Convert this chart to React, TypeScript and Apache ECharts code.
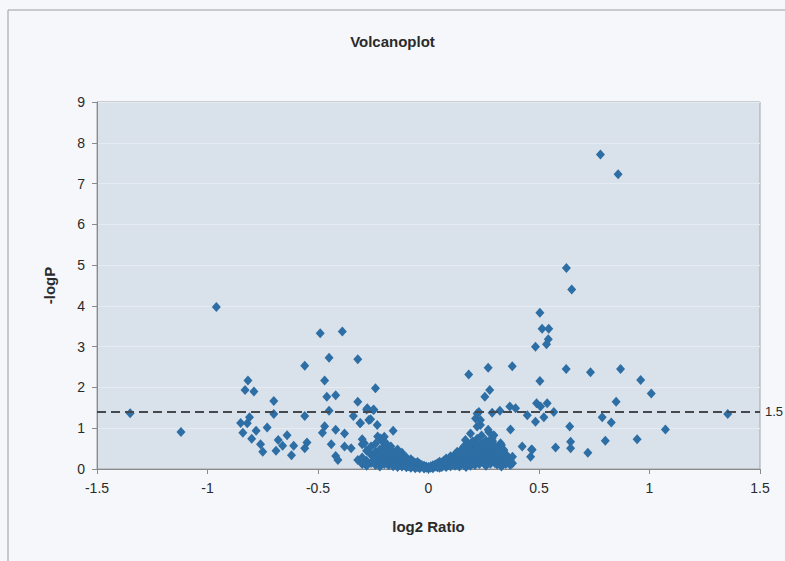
import React, { useEffect, useRef } from "react";
import * as echarts from "echarts";

const xTicks = { min: -1.5, max: 1.5, interval: 0.5 };
const yTicks = { min: 0, max: 9, interval: 1 };
const threshold = 1.4;
const thresholdLabel = "1.5";

const leftOutliers: [number, number][] = [
  [-1.35, 1.37], [-1.12, 0.91], [-0.96, 3.97],
];

const leftCluster: [number, number][] = [
  [-0.817, 2.17], [-0.83, 1.94], [-0.79, 1.9], [-0.81, 1.27], [-0.85, 1.13], [-0.82, 1.12],
  [-0.84, 0.89], [-0.78, 0.94], [-0.8, 0.74], [-0.76, 0.61], [-0.75, 0.42],
  [-0.49, 3.33], [-0.39, 3.37], [-0.45, 2.73], [-0.32, 2.69], [-0.56, 2.53], [-0.47, 2.17],
  [-0.24, 1.98], [-0.46, 1.77], [-0.42, 1.81], [-0.7, 1.67], [-0.32, 1.65], [-0.45, 1.43],
  [-0.28, 1.46], [-0.25, 1.45], [-0.7, 1.35], [-0.56, 1.3], [-0.34, 1.3], [-0.31, 1.12],
  [-0.27, 1.2], [-0.47, 1.05], [-0.48, 0.89], [-0.42, 0.96], [-0.38, 0.87], [-0.73, 1.02],
  [-0.68, 0.71], [-0.64, 0.83], [-0.66, 0.57], [-0.69, 0.45], [-0.61, 0.57], [-0.62, 0.34],
  [-0.55, 0.65], [-0.56, 0.51], [-0.44, 0.61], [-0.42, 0.32], [-0.41, 0.22], [-0.38, 0.55],
  [-0.35, 0.51], [-0.3, 0.61], [-0.3, 0.73], [-0.16, 0.94], [-0.277, 1.49], [-0.247, 1.45],
  [-0.308, 1.13], [-0.262, 1.22], [-0.232, 1.08], [-0.29, 0.63], [-0.217, 0.75], [-0.2, 0.55],
  [-0.32, 0.22], [-0.2, 0.79], [-0.21, 0.68], [-0.19, 0.62], [-0.17, 0.55], [-0.23, 0.8],
  [-0.14, 0.48], [-0.12, 0.4],
];

const coreCluster: [number, number][] = [
  [-0.3, 0.28], [-0.3, 0.12], [-0.28, 0.45], [-0.28, 0.2], [-0.28, 0.08], [-0.26, 0.35],
  [-0.26, 0.15], [-0.26, 0.55], [-0.24, 0.25], [-0.24, 0.42], [-0.24, 0.1], [-0.24, 0.62],
  [-0.22, 0.18], [-0.22, 0.33], [-0.22, 0.48], [-0.22, 0.06], [-0.2, 0.22], [-0.2, 0.38],
  [-0.2, 0.12], [-0.2, 0.3], [-0.19, 0.27], [-0.19, 0.15], [-0.19, 0.44], [-0.18, 0.2],
  [-0.18, 0.09], [-0.18, 0.33], [-0.18, 0.5], [-0.17, 0.26], [-0.17, 0.14], [-0.17, 0.38],
  [-0.16, 0.18], [-0.16, 0.3], [-0.16, 0.07], [-0.16, 0.42], [-0.15, 0.22], [-0.15, 0.12],
  [-0.15, 0.35], [-0.14, 0.16], [-0.14, 0.28], [-0.14, 0.05], [-0.14, 0.36], [-0.13, 0.2],
  [-0.13, 0.1], [-0.13, 0.3], [-0.12, 0.14], [-0.12, 0.24], [-0.12, 0.06], [-0.12, 0.32],
  [-0.11, 0.18], [-0.11, 0.09], [-0.11, 0.26], [-0.1, 0.12], [-0.1, 0.22], [-0.1, 0.04],
  [-0.1, 0.28], [-0.09, 0.15], [-0.09, 0.07], [-0.09, 0.21], [-0.08, 0.1], [-0.08, 0.18],
  [-0.08, 0.03], [-0.08, 0.24], [-0.07, 0.13], [-0.07, 0.06], [-0.07, 0.19], [-0.06, 0.09],
  [-0.06, 0.15], [-0.06, 0.02], [-0.05, 0.11], [-0.05, 0.05], [-0.05, 0.17], [-0.04, 0.08],
  [-0.04, 0.13], [-0.04, 0.02], [-0.03, 0.06], [-0.03, 0.1], [-0.02, 0.04], [-0.02, 0.08],
  [-0.02, 0.01], [-0.01, 0.03], [-0.01, 0.06], [0.0, 0.02], [0.0, 0.05], [0.0, 0.01],
  [0.01, 0.03], [0.01, 0.07], [0.02, 0.05], [0.02, 0.02], [0.02, 0.09], [0.03, 0.06],
  [0.03, 0.11], [0.04, 0.04], [0.04, 0.09], [0.04, 0.14], [0.05, 0.07], [0.05, 0.12],
  [0.05, 0.03], [0.05, 0.18], [0.06, 0.1], [0.06, 0.16], [0.06, 0.05], [0.07, 0.08],
  [0.07, 0.14], [0.07, 0.21], [0.08, 0.12], [0.08, 0.05], [0.08, 0.19], [0.08, 0.26],
  [0.09, 0.1], [0.09, 0.17], [0.09, 0.24], [0.1, 0.14], [0.1, 0.07], [0.1, 0.22],
  [0.1, 0.31], [0.11, 0.12], [0.11, 0.19], [0.11, 0.28], [0.12, 0.16], [0.12, 0.08],
  [0.12, 0.25], [0.12, 0.36], [0.13, 0.11], [0.13, 0.21], [0.13, 0.32], [0.13, 0.42],
  [0.14, 0.18], [0.14, 0.06], [0.14, 0.27], [0.14, 0.39], [0.15, 0.14], [0.15, 0.23],
  [0.15, 0.34], [0.15, 0.48], [0.16, 0.1], [0.16, 0.2], [0.16, 0.3], [0.16, 0.44],
  [0.16, 0.55], [0.17, 0.16], [0.17, 0.26], [0.17, 0.38], [0.17, 0.05], [0.18, 0.12],
  [0.18, 0.22], [0.18, 0.33], [0.18, 0.47], [0.18, 0.6], [0.19, 0.18], [0.19, 0.29],
  [0.19, 0.41], [0.19, 0.08], [0.2, 0.14], [0.2, 0.25], [0.2, 0.36], [0.2, 0.52],
  [0.2, 0.68], [0.21, 0.2], [0.21, 0.31], [0.21, 0.45], [0.21, 0.1], [0.22, 0.16],
  [0.22, 0.27], [0.22, 0.4], [0.22, 0.58], [0.22, 0.74], [0.23, 0.12], [0.23, 0.23],
  [0.23, 0.35], [0.23, 0.5], [0.24, 0.19], [0.24, 0.3], [0.24, 0.44], [0.24, 0.63],
  [0.24, 0.82], [0.25, 0.15], [0.25, 0.26], [0.25, 0.38], [0.25, 0.55], [0.26, 0.21],
  [0.26, 0.33], [0.26, 0.48], [0.26, 0.7], [0.26, 0.08], [0.27, 0.17], [0.27, 0.28],
  [0.27, 0.42], [0.27, 0.6], [0.28, 0.13], [0.28, 0.24], [0.28, 0.36], [0.28, 0.52],
  [0.29, 0.19], [0.29, 0.31], [0.29, 0.46], [0.29, 0.68], [0.3, 0.15], [0.3, 0.27],
  [0.3, 0.4], [0.3, 0.57], [0.31, 0.11], [0.31, 0.22], [0.31, 0.34], [0.31, 0.5],
  [0.32, 0.18], [0.32, 0.29], [0.32, 0.43], [0.33, 0.14], [0.33, 0.25], [0.33, 0.38],
  [0.33, 0.06], [0.34, 0.2], [0.34, 0.32], [0.34, 0.45], [0.35, 0.12], [0.35, 0.24],
  [0.35, 0.36], [0.36, 0.17], [0.36, 0.28], [0.37, 0.1], [0.37, 0.22], [0.38, 0.14],
  [0.38, 0.3],
];

const rightCluster: [number, number][] = [
  [0.182, 2.32], [0.27, 2.48], [0.379, 2.52], [0.277, 1.94], [0.255, 1.77], [0.228, 1.4],
  [0.288, 1.38], [0.323, 1.43], [0.368, 1.53], [0.394, 1.49], [0.447, 1.32], [0.213, 1.24],
  [0.235, 1.08], [0.273, 0.91], [0.288, 0.75], [0.371, 0.97], [0.326, 0.63], [0.424, 0.55],
  [0.469, 0.47], [0.462, 0.3], [0.296, 0.83], [0.34, 0.47], [0.356, 0.3], [0.371, 0.14],
  [0.22, 1.36], [0.235, 1.2], [0.22, 1.04], [0.27, 0.96], [0.19, 0.87], [0.167, 0.71],
  [0.33, 0.59], [0.28, 0.71], [0.504, 2.16], [0.489, 1.61], [0.507, 1.53], [0.537, 1.61],
  [0.567, 1.4], [0.522, 1.27], [0.484, 1.16], [0.466, 0.48], [0.639, 1.04], [0.643, 0.67],
  [0.643, 0.51], [0.575, 0.53], [0.721, 0.4],
];

const rightOutliers: [number, number][] = [
  [0.778, 7.71], [0.858, 7.23], [0.624, 4.93], [0.648, 4.4], [0.504, 3.83], [0.514, 3.44],
  [0.544, 3.44], [0.542, 3.18], [0.534, 3.06], [0.484, 3.0], [0.623, 2.45], [0.733, 2.37],
  [0.869, 2.45], [0.96, 2.18], [1.008, 1.85], [0.786, 1.27], [0.827, 1.14], [0.849, 1.65],
  [0.8, 0.69], [0.944, 0.73], [1.072, 0.97], [1.354, 1.35],
];

const FONT = "'Liberation Sans', Arial, sans-serif";

export default function App() {
  const ref = useRef<HTMLDivElement>(null);
  useEffect(() => {
    if (!ref.current) return;
    const chart = echarts.init(ref.current, undefined, { renderer: "svg" });
    const data = [...leftOutliers, ...leftCluster, ...coreCluster, ...rightCluster, ...rightOutliers];
    chart.setOption({
      animation: false,
      backgroundColor: "#f5f7fa",
      title: {
        text: "Volcanoplot",
        left: "center",
        top: 29,
        textStyle: { fontFamily: FONT, fontSize: 15, fontWeight: "bold", color: "#2a2a2a" },
      },
      graphic: [
        {
          type: "rect",
          shape: { x: 8, y: 10, width: 800, height: 600 },
          style: { fill: "none", stroke: "#9c9c9c", lineWidth: 1 },
          silent: true,
        },
      ],
      grid: {
        left: 97,
        right: 25,
        top: 102,
        bottom: 92,
        show: true,
        backgroundColor: "#d9e1ea",
        borderColor: "#a0a4a8",
        borderWidth: 1,
      },
      xAxis: {
        type: "value",
        min: xTicks.min,
        max: xTicks.max,
        interval: xTicks.interval,
        name: "log2 Ratio",
        nameLocation: "middle",
        nameGap: 50,
        nameTextStyle: { fontFamily: FONT, fontSize: 15, fontWeight: "bold", color: "#2a2a2a" },
        axisLine: { onZero: false, lineStyle: { color: "#8a8a8a" } },
        axisTick: { show: true, inside: false, length: 5, lineStyle: { color: "#8a8a8a" } },
        axisLabel: { fontFamily: FONT, fontSize: 14, color: "#2a2a2a", margin: 12 },
        splitLine: { show: false },
      },
      yAxis: {
        type: "value",
        min: yTicks.min,
        max: yTicks.max,
        interval: yTicks.interval,
        name: "-logP",
        nameLocation: "middle",
        nameGap: 40,
        nameRotate: 90,
        nameTextStyle: { fontFamily: FONT, fontSize: 15, fontWeight: "bold", color: "#2a2a2a" },
        axisLine: { show: true, onZero: false, lineStyle: { color: "#8a8a8a" } },
        axisTick: { show: true, inside: false, length: 5, lineStyle: { color: "#8a8a8a" } },
        axisLabel: { fontFamily: FONT, fontSize: 14, color: "#2a2a2a", margin: 12 },
        splitLine: { show: true, lineStyle: { color: "#e6ebf1", width: 1 } },
      },
      series: [
        {
          type: "scatter",
          symbol: "diamond",
          symbolSize: [9, 10],
          itemStyle: { color: "#2d6ea5", opacity: 1 },
          data,
          markLine: {
            silent: true,
            symbol: "none",
            lineStyle: { type: [9, 5], color: "#45494d", width: 2 },
            label: {
              show: true,
              position: "end",
              formatter: thresholdLabel,
              fontFamily: FONT,
              fontSize: 13,
              color: "#2a2a2a",
              distance: 5,
            },
            data: [{ yAxis: threshold }],
          },
        },
      ],
    });
    return () => chart.dispose();
  }, []);
  return (
    <div
      ref={ref}
      style={{ position: "fixed", left: 0, top: 0, width: 785, height: 561 }}
    />
  );
}
